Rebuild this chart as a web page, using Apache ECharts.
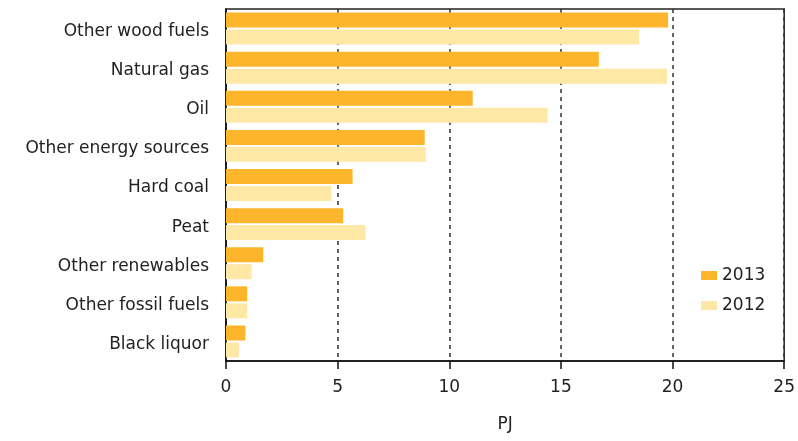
<!doctype html>
<html>
<head>
<meta charset="utf-8">
<title>Fuels</title>
<script src="https://cdn.jsdelivr.net/npm/echarts@6/dist/echarts.min.js"></script>
<style type="text/css">
	html,body{margin:0;padding:0;background:#fff;}
	#chart{width:798px;height:441px;}
</style>
</head>
<body>
<div id="chart"></div>
<script type="text/javascript">
var categories = ['Other wood fuels', 'Natural gas', 'Oil', 'Other energy sources', 'Hard coal', 'Peat', 'Other renewables', 'Other fossil fuels', 'Black liquor'];
var values2013 = [19.8, 16.7, 11.05, 8.9, 5.67, 5.25, 1.67, 0.95, 0.87];
var values2012 = [18.5, 19.75, 14.4, 8.95, 4.72, 6.25, 1.15, 0.95, 0.58];
var xTicks = [0, 5, 10, 15, 20, 25];

var font = 'DejaVu Sans';
var chart = echarts.init(document.getElementById('chart'));
var option = {
	animation: false,
	textStyle: {fontFamily: font},
	grid: {
		left: 226, right: 12, top: 9, bottom: 80,
		show: true,
		borderColor: '#222',
		borderWidth: 1.5
	},
	legend: {
		orient: 'vertical',
		left: 701,
		top: 267,
		padding: 0,
		itemWidth: 16,
		itemHeight: 9,
		itemGap: 13,
		icon: 'rect',
		textStyle: {fontFamily: font, fontSize: 17, color: '#222'},
		data: ['2013', '2012']
	},
	xAxis: {
		type: 'value',
		min: xTicks[0],
		max: xTicks[xTicks.length - 1],
		interval: 5,
		name: 'PJ',
		nameLocation: 'middle',
		nameGap: 55,
		nameTextStyle: {fontFamily: font, fontSize: 17, color: '#222'},
		axisLine: {show: true, lineStyle: {color: '#111', width: 1.5}},
		axisTick: {show: true, length: 8, lineStyle: {color: '#111', width: 1.5}},
		axisLabel: {fontFamily: font, fontSize: 17, color: '#222', margin: 18},
		splitLine: {show: true, lineStyle: {color: '#333', width: 1.5, type: [4, 4]}}
	},
	yAxis: {
		type: 'category',
		inverse: true,
		data: categories,
		axisLine: {show: true, lineStyle: {color: '#111', width: 1.5}},
		axisTick: {show: false},
		axisLabel: {
			margin: 17,
			formatter: function (v) { return '{a|' + v + '}'; },
			rich: {a: {fontFamily: font, fontSize: 17, color: '#222', padding: [6, 0, 0, 0]}}
		},
		splitLine: {show: false}
	},
	series: [
		{
			name: '2013',
			type: 'bar',
			data: values2013,
			barWidth: 15,
			barGap: '13%',
			itemStyle: {color: '#FDB52B'}
		},
		{
			name: '2012',
			type: 'bar',
			data: values2012,
			barWidth: 15,
			barGap: '13%',
			itemStyle: {color: '#FFE7A6'}
		}
	]
};
chart.setOption(option);
</script>
</body>
</html>
